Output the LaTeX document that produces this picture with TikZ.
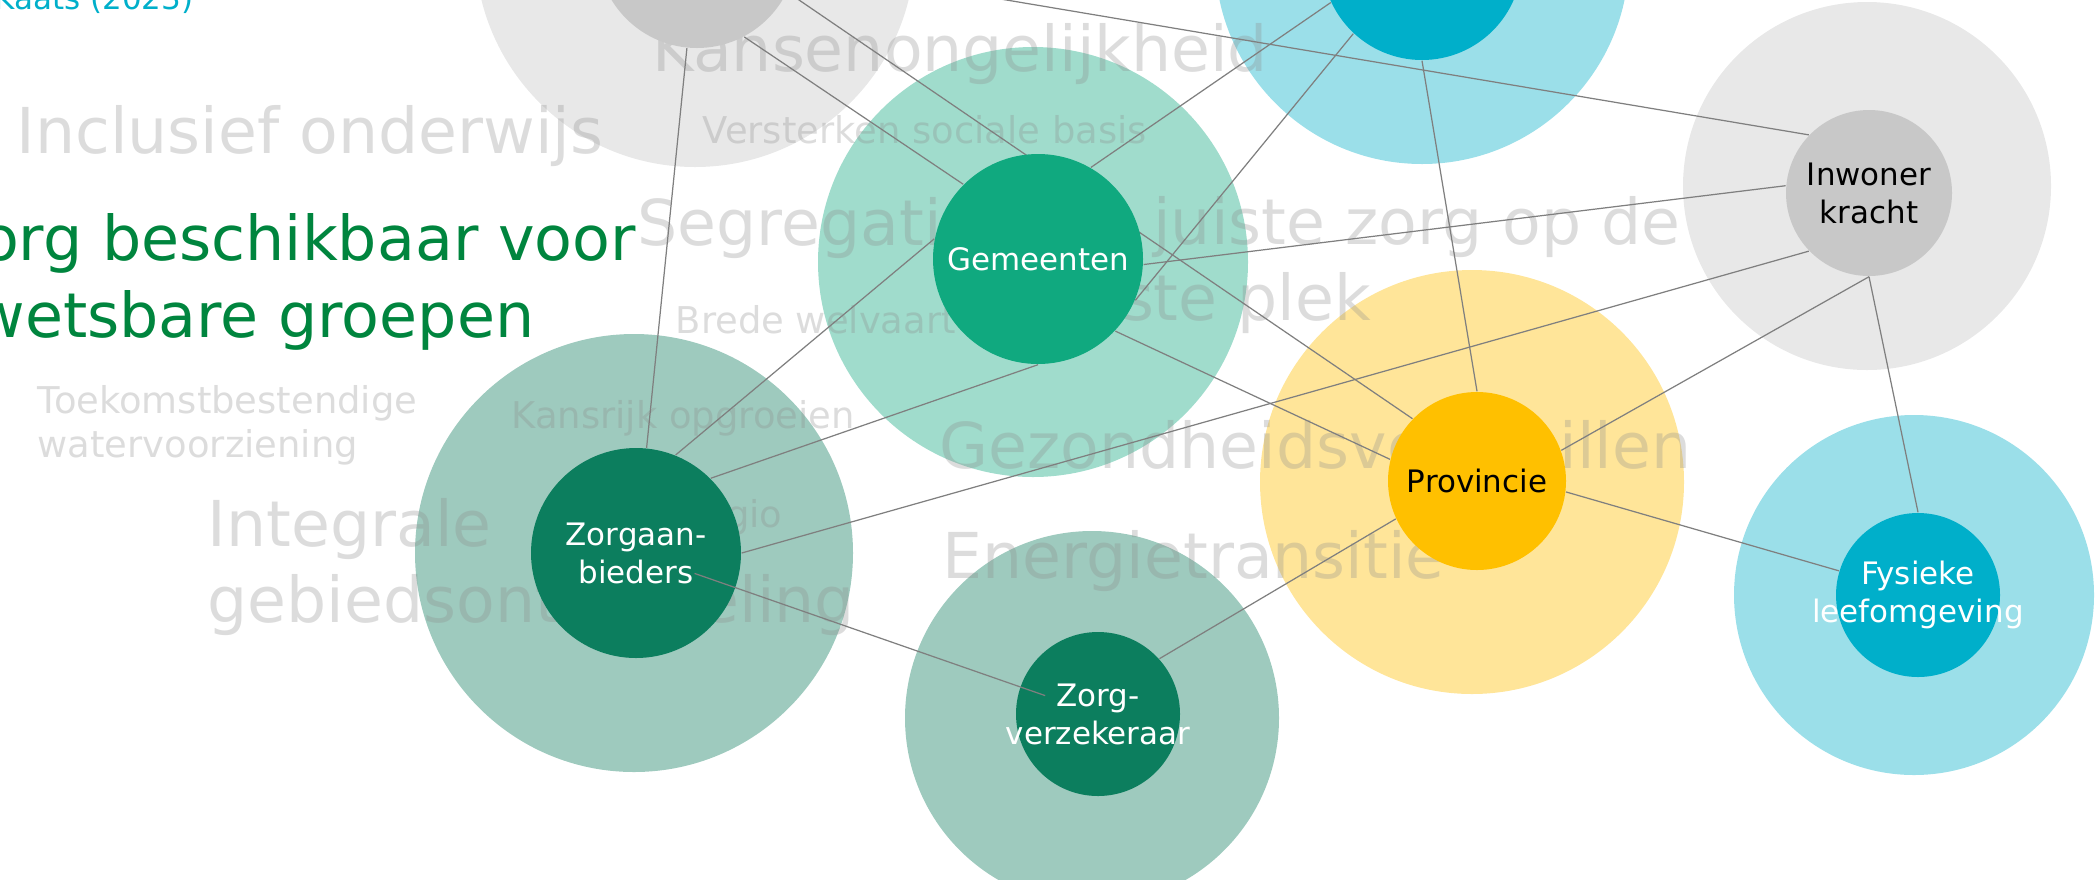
\documentclass[tikz,border=0pt]{standalone}
\usepackage{xcolor}
\usepackage{tikz}
\usepackage{fontspec}
\setmainfont{DejaVu Sans}

\definecolor{groenlicht}{HTML}{10A97F}
\definecolor{groenlichthalo}{HTML}{A0DCCC}
\definecolor{groendonker}{HTML}{0C7E5E}
\definecolor{groendonkerhalo}{HTML}{9ECABE}
\definecolor{geel}{HTML}{FFC000}
\definecolor{geelhalo}{HTML}{FFE599}
\definecolor{grijs}{HTML}{C8C8C8}
\definecolor{grijshalo}{HTML}{E8E8E8}
\definecolor{cyaan}{HTML}{00AFCA}
\definecolor{cyaanhalo}{HTML}{9BDFE9}
\definecolor{titelgroen}{HTML}{00853E}
\definecolor{lijngrijs}{HTML}{7F7F7F}

\pgfdeclarelayer{background}
\pgfdeclarelayer{lijnen}
\pgfsetlayers{background,lijnen,main}

\begin{document}
\begin{tikzpicture}[
    x=0.1mm, y=-0.1mm,
    kern/.style={circle, inner sep=-3mm, align=center, font=\fontsize{8.8}{10.8}\selectfont},
    thema/.style={anchor=base west, inner sep=0pt, align=left, text=black!45, text opacity=0.3, font=\fontsize{18}{21.6}\selectfont},
    subthema/.style={thema, font=\fontsize{10.5}{12.5}\selectfont},
    lijn/.style={draw=lijngrijs, line width=0.35pt}
]
    \useasboundingbox (0,0) rectangle (2100,879);

    % partijen
    \node[kern, fill=grijs, minimum size=20mm] (grijsboven) at (697,-52) {};
    \node[kern, fill=cyaan, minimum size=20mm] (cyaanboven) at (1422,-40) {};
    \node[kern, fill=groenlicht, text=white, minimum size=21mm] (gemeenten) at (1038,259) {Gemeenten};
    \node[kern, fill=groendonker, text=white, minimum size=21mm] (zorgaanbieders) at (636,553) {Zorgaan-\\bieders};
    \node[kern, fill=groendonker, text=white, minimum size=16.4mm] (zorgverzekeraar) at (1098,714) {Zorg-\\verzekeraar};
    \node[kern, fill=geel, text=black, minimum size=17.8mm] (provincie) at (1477,481) {Provincie};
    \node[kern, fill=grijs, text=black, minimum size=16.6mm] (inwonerkracht) at (1869,193) {Inwoner\\kracht};
    \node[kern, fill=cyaan, text=white, minimum size=16.4mm] (leefomgeving) at (1918,595) {Fysieke\\leefomgeving};

    % halo's en thema's
    \begin{pgfonlayer}{background}
        \fill[grijshalo] (695,-53) circle (220);
        \fill[cyaanhalo] (1422,-43) circle (207);
        \fill[groenlichthalo] (1033,262) circle (215);
        \fill[groendonkerhalo] (634,553) circle (219);
        \fill[groendonkerhalo] (1092,718) circle (187);
        \fill[geelhalo] (1472,482) circle (212);
        \fill[grijshalo] (1867,186) circle (184);
        \fill[cyaanhalo] (1914,595) circle (180);

        \node[anchor=base east, inner sep=0pt, text=cyaan, font=\fontsize{8.8}{10.8}\selectfont] (bron) at (194,9) {Kaats (2023)};
        \node[anchor=base west, inner sep=0pt, align=left, text=titelgroen, font=\fontsize{17.6}{21.9}\selectfont] (titel) at (-62,337) {Zorg beschikbaar voor\\kwetsbare groepen};

        \node[thema] (onderwijs) at (16,153) {Inclusief onderwijs};
        \node[thema] (kansen) at (652,71) {Kansenongelijkheid};
        \node[thema] (segregatie) at (637,245) {Segregatie};
        \node[thema] (juistezorg) at (1045,320) {De juiste zorg op de\\juiste plek};
        \node[thema] (integraal) at (207,622) {Integrale\\gebiedsontwikkeling};
        \node[thema] (gezondheid) at (939,468) {Gezondheidsverschillen};
        \node[thema] (energie) at (942,578) {Energietransitie};

        \node[subthema] (sociale) at (702,143) {Versterken sociale basis};
        \node[subthema] (welvaart) at (675,333) {Brede welvaart};
        \node[subthema] (opgroeien) at (511,428) {Kansrijk opgroeien};
        \node[subthema] (water) at (37,457) {Toekomstbestendige\\watervoorziening};
        \node[subthema, anchor=base east] (regio) at (783,527) {Regio};
    \end{pgfonlayer}

    % verbindingen
    \begin{pgfonlayer}{lijnen}
        \draw[lijn] (grijsboven) -- (zorgaanbieders);
        \draw[lijn] (grijsboven.-62) -- (gemeenten.135);
        \draw[lijn] (grijsboven.-26) -- (provincie.136);
        \draw[lijn] (grijsboven) -- (inwonerkracht.136);
        \draw[lijn] (gemeenten.60) -- (cyaanboven.205);
        \draw[lijn] (cyaanboven.227) -- (gemeenten.-23);
        \draw[lijn] (gemeenten.-3) -- (inwonerkracht.175);
        \draw[lijn] (gemeenten.-43) -- (provincie.166);
        \draw[lijn] (cyaanboven.south) -- (provincie.north);
        \draw[lijn] (zorgaanbieders.68) -- (gemeenten.169);
        \draw[lijn] (zorgaanbieders.45) -- (gemeenten.south);
        \draw[lijn] (zorgaanbieders.east) -- (inwonerkracht.224);
        \draw[lijn] (provincie.205) -- (zorgverzekeraar.42);
        \draw[lijn] (provincie.20) -- (inwonerkracht.south);
        \draw[lijn] (provincie.-7) -- (leefomgeving.163);
        \draw[lijn] (inwonerkracht.south) -- (leefomgeving.north);
    \end{pgfonlayer}
    \draw[lijn, shorten <=6.2mm, shorten >=5.6mm] (zorgaanbieders.center) -- (zorgverzekeraar.center);
\end{tikzpicture}
\end{document}
